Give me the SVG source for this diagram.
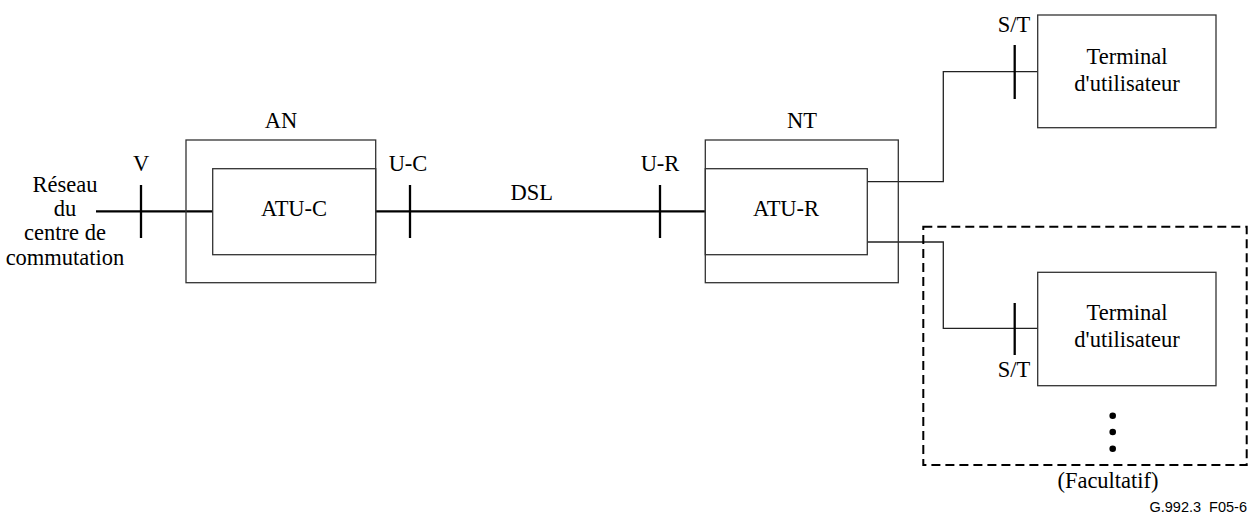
<svg xmlns="http://www.w3.org/2000/svg" width="1251" height="517" viewBox="0 0 1251 517">
<style>
.t{font-family:'Liberation Serif','Times New Roman',serif;font-size:22.5px;fill:#000;text-anchor:middle}
.box{fill:none;stroke:#333;stroke-width:1.3}
.thick{fill:none;stroke:#000;stroke-width:2.3}
.thin{fill:none;stroke:#222;stroke-width:1.3}
.tick{stroke:#000;stroke-width:2.3}
.dash{fill:none;stroke:#000;stroke-width:2;stroke-dasharray:9 5}
.ref{font-family:'Liberation Sans',Arial,sans-serif;font-size:14.5px;text-anchor:end;white-space:pre}
</style>
<rect width="1251" height="517" fill="#fff"/>
<g id="connectors">
  <line class="thick" x1="96" y1="211.3" x2="212.7" y2="211.3"/>
  <line class="thick" x1="375.7" y1="211.3" x2="705.3" y2="211.3"/>
  <polyline class="thin" points="867.3,181.7 943.3,181.7 943.3,71.7 1037.7,71.7"/>
  <polyline class="thin" points="867.3,242 943.3,242 943.3,328.3 1037.7,328.3"/>
  <line class="tick" x1="141" y1="185" x2="141" y2="238"/>
  <line class="tick" x1="410" y1="185" x2="410" y2="238"/>
  <line class="tick" x1="660" y1="185" x2="660" y2="238"/>
  <line class="tick" x1="1014.7" y1="45" x2="1014.7" y2="99"/>
  <line class="tick" x1="1014.7" y1="303" x2="1014.7" y2="355"/>
</g>
<g id="reseau" class="t">
  <text x="65" y="192">Réseau</text>
  <text x="65" y="216">du</text>
  <text x="65" y="240">centre de</text>
  <text x="65" y="265">commutation</text>
</g>
<g id="labels" class="t">
  <text x="141" y="170.5">V</text>
  <text x="408" y="170.5">U-C</text>
  <text x="531.7" y="200">DSL</text>
  <text x="660" y="170.5">U-R</text>
  <text x="1014" y="32">S/T</text>
  <text x="1014" y="376.5">S/T</text>
</g>
<g id="AN" class="t">
  <rect class="box" x="186" y="140" width="189.7" height="142.7"/>
  <text x="281" y="128">AN</text>
</g>
<g id="ATU-C" class="t">
  <rect class="box" x="212.7" y="168.7" width="163" height="86"/>
  <text x="294" y="216">ATU-C</text>
</g>
<g id="NT" class="t">
  <rect class="box" x="705.3" y="140" width="193" height="142.7"/>
  <text x="802" y="128">NT</text>
</g>
<g id="ATU-R" class="t">
  <rect class="box" x="705.3" y="168.7" width="162" height="86"/>
  <text x="786" y="216">ATU-R</text>
</g>
<g id="terminal1" class="t">
  <rect class="box" x="1037.7" y="15" width="178.3" height="112.7"/>
  <text x="1127" y="64">Terminal</text>
  <text x="1127" y="90.7">d'utilisateur</text>
</g>
<g id="optional" class="t">
  <rect class="dash" x="923.3" y="226.7" width="323.4" height="238.3"/>
  <circle cx="1112.7" cy="415.7" r="3.3"/>
  <circle cx="1112.7" cy="432" r="3.3"/>
  <circle cx="1112.7" cy="448.7" r="3.3"/>
  <text x="1108" y="488.3">(Facultatif)</text>
</g>
<g id="terminal2" class="t">
  <rect class="box" x="1037.7" y="272.3" width="178.3" height="113.4"/>
  <text x="1127" y="320">Terminal</text>
  <text x="1127" y="346.7">d'utilisateur</text>
</g>
<text class="ref" x="1247" y="512">G.992.3  F05-6</text>
</svg>
